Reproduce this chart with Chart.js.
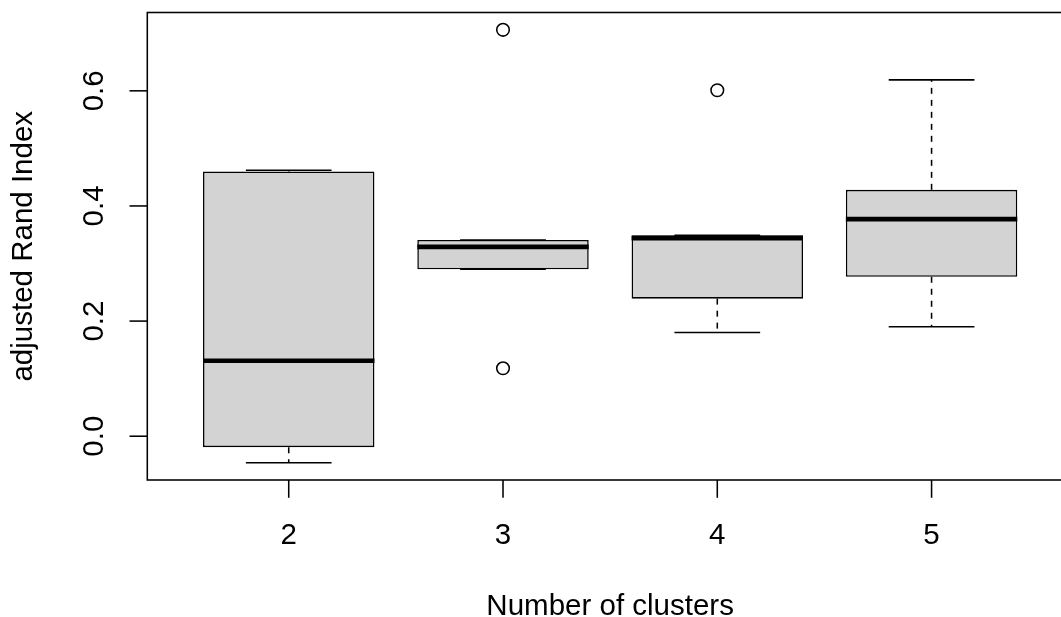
<!DOCTYPE html>
<html>
<head>
<meta charset="utf-8">
<title>adjusted Rand Index by number of clusters</title>
<script src="https://cdn.jsdelivr.net/npm/chart.js@4.4.1/dist/chart.umd.min.js"></script>
<style>
  html, body { margin: 0; padding: 0; background: #ffffff; }
  canvas { display: block; }
</style>
</head>
<body>
<canvas id="chart" width="1061" height="617"></canvas>
<script>
// Five-number summaries per group (number of clusters)
const categories    = [2, 3, 4, 5];
const whiskerLow    = [-0.046, 0.290, 0.180, 0.190];
const lowerQuartile = [-0.019, 0.290, 0.239, 0.277];
const medians       = [0.131, 0.329, 0.344, 0.377];
const upperQuartile = [0.460, 0.341, 0.349, 0.428];
const whiskerHigh   = [0.462, 0.341, 0.349, 0.619];

// Points beyond the whiskers
const outlierGroup = [3, 3, 4];
const outlierValue = [0.706, 0.118, 0.601];

// Axis ticks and titles
const yTickValues = [0, 0.2, 0.4, 0.6];
const yTickLabels = ['0.0', '0.2', '0.4', '0.6'];
const xTickLabels = ['2', '3', '4', '5'];
const xTitle = 'Number of clusters';
const yTitle = 'adjusted Rand Index';

// Drawing styles
const FONT = '29.5px "Liberation Sans", Arial, Helvetica, sans-serif';
const LINE_W = 1.55;
const MEDIAN_W = 4.65;
const BOX_HALF = 0.4;
const STAPLE_HALF = 0.2;
const TICK_LEN = 17.8;
const BOX_FILL = '#d3d3d3';

// Axis limits: groups span +/-0.5 around each position, both ranges padded by 4%
const allValues = whiskerLow.concat(whiskerHigh, outlierValue);
const dataMin = Math.min(...allValues);
const dataMax = Math.max(...allValues);
const yPad = (dataMax - dataMin) * 0.04;
const yMin = dataMin - yPad;
const yMax = dataMax + yPad;
const xLo = categories[0] - 0.5;
const xHi = categories[categories.length - 1] + 0.5;
const xPad = (xHi - xLo) * 0.04;
const xMin = xLo - xPad;
const xFrameMax = xHi + xPad;   // right side of the plot frame, beyond the canvas
const xVisibleMax = 5.604;      // x value at the canvas' right edge

const boxplotPlugin = {
  id: 'boxplotDetails',
  afterDatasetDraw(chart, args) {
    if (args.index !== 0) return;
    const { ctx, scales: { x, y } } = chart;
    ctx.save();
    ctx.strokeStyle = '#000';
    ctx.lineCap = 'butt';
    categories.forEach((c, i) => {
      const cx = x.getPixelForValue(c);
      // median bar
      ctx.setLineDash([]);
      ctx.lineWidth = MEDIAN_W;
      const my = y.getPixelForValue(medians[i]);
      ctx.beginPath();
      ctx.moveTo(x.getPixelForValue(c - BOX_HALF), my);
      ctx.lineTo(x.getPixelForValue(c + BOX_HALF), my);
      ctx.stroke();
      // dashed whiskers, drawn outward from the box
      ctx.lineWidth = LINE_W;
      ctx.setLineDash([6, 6]);
      [[lowerQuartile[i], whiskerLow[i]], [upperQuartile[i], whiskerHigh[i]]].forEach(([from, to]) => {
        if (from === to) return;
        ctx.beginPath();
        ctx.moveTo(cx, y.getPixelForValue(from));
        ctx.lineTo(cx, y.getPixelForValue(to));
        ctx.stroke();
      });
      // staples
      ctx.setLineDash([]);
      [whiskerLow[i], whiskerHigh[i]].forEach(v => {
        const py = y.getPixelForValue(v);
        ctx.beginPath();
        ctx.moveTo(x.getPixelForValue(c - STAPLE_HALF), py);
        ctx.lineTo(x.getPixelForValue(c + STAPLE_HALF), py);
        ctx.stroke();
      });
    });
    ctx.restore();
  },
  afterDraw(chart) {
    const { ctx, chartArea: a, scales: { x, y } } = chart;
    const frameRight = x.getPixelForValue(xFrameMax);
    ctx.save();
    ctx.strokeStyle = '#000';
    ctx.fillStyle = '#000';
    ctx.lineWidth = LINE_W;
    ctx.setLineDash([]);
    // plot frame
    ctx.strokeRect(a.left, a.top, frameRight - a.left, a.bottom - a.top);
    ctx.font = FONT;

    // x axis ticks and labels
    ctx.textAlign = 'center';
    ctx.textBaseline = 'alphabetic';
    categories.forEach((c, i) => {
      const px = x.getPixelForValue(c);
      ctx.beginPath();
      ctx.moveTo(px, a.bottom);
      ctx.lineTo(px, a.bottom + TICK_LEN);
      ctx.stroke();
      ctx.fillText(xTickLabels[i], px, a.bottom + 64);
    });
    ctx.fillText(xTitle, (a.left + frameRight) / 2, a.bottom + 135);

    // y axis ticks and rotated labels
    yTickValues.forEach((v, i) => {
      const py = y.getPixelForValue(v);
      ctx.beginPath();
      ctx.moveTo(a.left, py);
      ctx.lineTo(a.left - TICK_LEN, py);
      ctx.stroke();
      ctx.save();
      ctx.translate(a.left - 44, py);
      ctx.rotate(-Math.PI / 2);
      ctx.fillText(yTickLabels[i], 0, 0);
      ctx.restore();
    });
    ctx.save();
    ctx.translate(a.left - 115.4, (a.top + a.bottom) / 2);
    ctx.rotate(-Math.PI / 2);
    ctx.fillText(yTitle, 0, 0);
    ctx.restore();
    ctx.restore();
  }
};

new Chart(document.getElementById('chart'), {
  type: 'bar',
  data: {
    datasets: [
      {
        type: 'bar',
        data: categories.map((c, i) => ({ x: c, y: [lowerQuartile[i], upperQuartile[i]] })),
        backgroundColor: BOX_FILL,
        borderColor: '#000',
        borderWidth: LINE_W,
        borderSkipped: false,
        categoryPercentage: 2 * BOX_HALF,
        barPercentage: 1.0,
        order: 1
      },
      {
        type: 'scatter',
        data: outlierGroup.map((g, i) => ({ x: g, y: outlierValue[i] })),
        pointStyle: 'circle',
        pointRadius: 6.3,
        borderWidth: LINE_W,
        borderColor: '#000',
        backgroundColor: 'rgba(0,0,0,0)',
        order: 0
      }
    ]
  },
  options: {
    responsive: false,
    animation: false,
    devicePixelRatio: 1,
    events: [],
    layout: {
      autoPadding: false,
      padding: { left: 147.3, top: 12.5, right: 0, bottom: 137 }
    },
    plugins: { legend: { display: false }, tooltip: { enabled: false } },
    scales: {
      x: {
        type: 'linear', min: xMin, max: xVisibleMax, display: false, offset: false,
        afterBuildTicks: scale => { scale.ticks = categories.map(v => ({ value: v })); }
      },
      y: { type: 'linear', min: yMin, max: yMax, display: false }
    }
  },
  plugins: [boxplotPlugin]
});
</script>
</body>
</html>
